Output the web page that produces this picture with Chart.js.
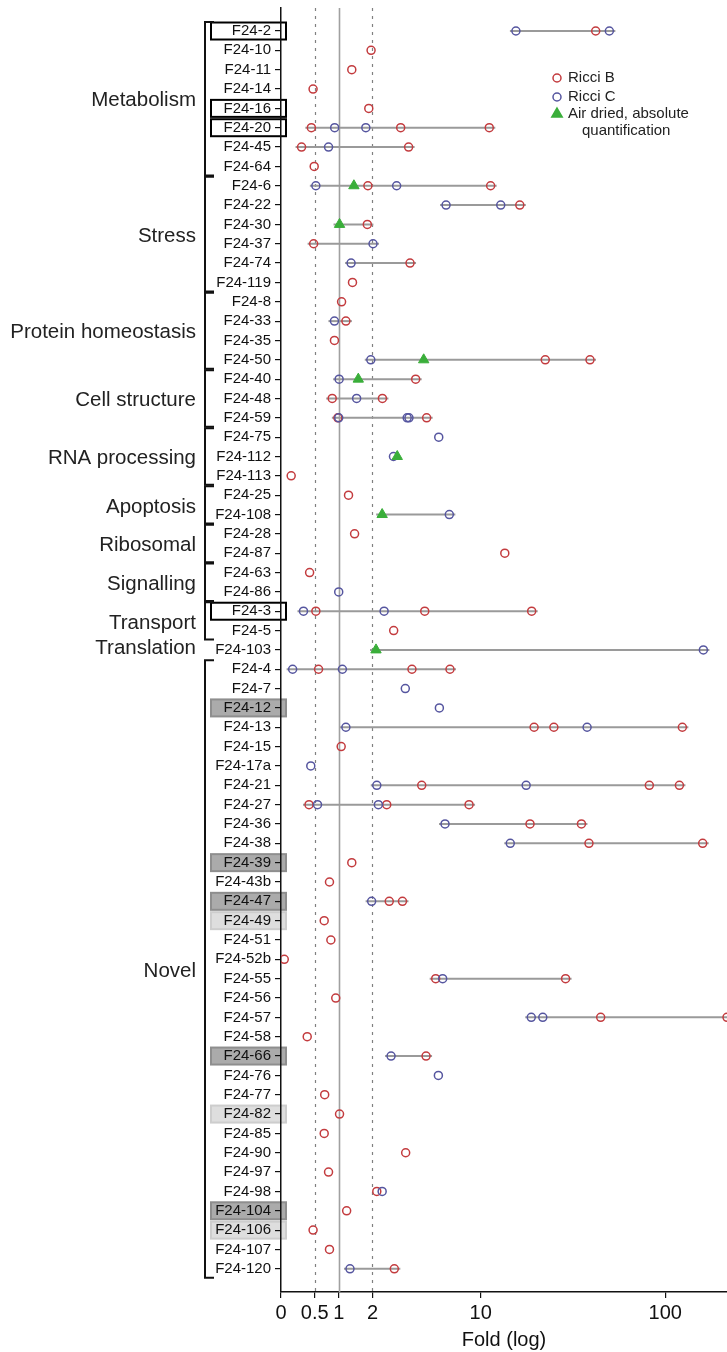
<!DOCTYPE html>
<html>
<head>
<meta charset="utf-8">
<script src="https://cdn.jsdelivr.net/npm/chart.js@4.4.0/dist/chart.umd.min.js"></script>
<style>
  html, body { margin: 0; padding: 0; background: #fff; }
  #wrap { position: relative; width: 727px; height: 1352px; }
</style>
</head>
<body>
<div id="wrap"><canvas id="foldChart"></canvas></div>
<script>
// Row labels, top to bottom
const rows = [
    'F24-2', 'F24-10', 'F24-11', 'F24-14', 'F24-16', 'F24-20', 'F24-45', 'F24-64',
    'F24-6', 'F24-22', 'F24-30', 'F24-37', 'F24-74', 'F24-119',
    'F24-8', 'F24-33', 'F24-35', 'F24-50',
    'F24-40', 'F24-48', 'F24-59',
    'F24-75', 'F24-112', 'F24-113',
    'F24-25', 'F24-108',
    'F24-28', 'F24-87',
    'F24-63', 'F24-86',
    'F24-3', 'F24-5',
    'F24-103',
    'F24-4', 'F24-7', 'F24-12', 'F24-13', 'F24-15', 'F24-17a', 'F24-21', 'F24-27',
    'F24-36', 'F24-38', 'F24-39', 'F24-43b', 'F24-47', 'F24-49', 'F24-51', 'F24-52b',
    'F24-55', 'F24-56', 'F24-57', 'F24-58', 'F24-66', 'F24-76', 'F24-77', 'F24-82',
    'F24-85', 'F24-90', 'F24-97', 'F24-98', 'F24-104', 'F24-106', 'F24-107', 'F24-120'
];

// Functional groups (consecutive rows)
const groupNames = ['Metabolism', 'Stress', 'Protein homeostasis', 'Cell structure', 'RNA processing',
    'Apoptosis', 'Ribosomal', 'Signalling', 'Transport', 'Translation', 'Novel'];
const groupSizes = [8, 6, 4, 3, 3, 2, 2, 2, 2, 1, 32];

// Fold values per row (one list per row, same order as rows)
const ricciB = [
    [42.8], [1.95], [1.34], [0.47], [1.87], [0.44, 3.21, 11.2], [0.28, 3.63], [0.49],
    [1.84, 11.4], [16.6], [1.82], [0.48], [3.71], [1.36],
    [1.07], [1.18], [0.9], [22.9, 39.9],
    [4.04], [0.85, 2.38], [0.98, 4.75],
    [], [], [0.13],
    [1.25], [],
    [1.42], [13.7],
    [0.41], [],
    [0.52, 4.62, 19.3], [2.87],
    [],
    [0.57, 3.82, 6.61], [], [], [19.9, 25.5, 123], [1.06], [], [4.42, 82.4, 118.7], [0.40, 2.56, 8.57],
    [18.9, 35.9], [39.4, 157.3], [1.34], [0.79], [2.67, 3.30], [0.68], [0.82], [0.04],
    [5.41, 29.5], [0.93], [45.5, 211], [0.37], [4.71], [], [0.69], [1.02],
    [0.68], [3.47], [0.77], [2.16], [1.20], [0.47], [0.79], [2.90]
];
const ricciC = [
    [15.8, 50.6], [], [], [], [], [0.905, 1.77], [0.77], [],
    [0.52, 3.01], [6.26, 13.0], [], [2.02], [1.32], [],
    [], [0.9], [], [1.94],
    [1.01], [1.48], [1.0, 3.55, 3.65],
    [5.65], [2.86], [],
    [], [6.55],
    [], [],
    [], [1.0],
    [0.31, 2.45], [],
    [158.6],
    [0.15, 1.09], [3.45], [5.70], [1.18, 38.5], [], [0.43], [2.16, 18.0], [0.55, 2.22],
    [6.17], [14.7], [], [], [1.97], [], [], [],
    [5.97], [], [19.2, 22.2], [], [2.75], [5.62], [], [],
    [], [], [], [2.37], [], [], [], [1.29]
];
const airDried = [
    [], [], [], [], [], [], [], [],
    [1.40], [], [1.02], [], [], [],
    [], [], [], [4.55],
    [1.53], [], [],
    [], [3.04], [],
    [], [2.37],
    [], [],
    [], [],
    [], [],
    [2.13],
    [], [], [], [], [], [], [], [],
    [], [], [], [], [], [], [], [],
    [], [], [], [], [], [], [], [],
    [], [], [], [], [], [], [], []
];

// Rows drawn without a range bar
const noRange = ['F24-98', 'F24-112'];

// Highlighted row labels
const outlinedLabels = ['F24-2', 'F24-16', 'F24-20', 'F24-3'];
const darkLabels = ['F24-12', 'F24-39', 'F24-47', 'F24-66', 'F24-104'];
const lightLabels = ['F24-49', 'F24-82', 'F24-106'];

const xTickValues = [0, 0.5, 1, 2, 10, 100];
const refLines = [0.5, 1, 2];
const xMaxFold = 211;

const colors = {
    red: '#c33b3e',
    blue: '#55559f',
    green: '#3aae3a',
    range: '#9a9a9a',
    ref: '#808080'
};
const FONT = "'Liberation Sans', Arial, Helvetica, sans-serif";

// Axis is log10(fold + 1)
const tf = v => Math.log10(v + 1);
const toPoints = series => series.flatMap((vals, i) => vals.map(v => ({ x: tf(v), y: i })));

// no extra label padding around the plot area
const noPad = scale => {
    scale.paddingTop = 0;
    scale.paddingBottom = 0;
    scale.paddingLeft = 0;
    scale.paddingRight = 0;
};

const decorPlugin = {
    id: 'foldDecor',
    beforeDraw(chart) {
        // label boxes behind the tick labels
        const ctx = chart.ctx;
        const y = chart.scales.y;
        ctx.save();
        rows.forEach((name, i) => {
            const py = y.getPixelForValue(i);
            let fill = null, stroke = null;
            if (outlinedLabels.includes(name)) { stroke = '#000'; }
            else if (darkLabels.includes(name)) { fill = '#ababab'; stroke = '#8e8e8e'; }
            else if (lightLabels.includes(name)) { fill = '#dedede'; stroke = '#cdcdcd'; }
            if (!stroke) return;
            if (fill) { ctx.fillStyle = fill; ctx.fillRect(211, py - 8.5, 75, 17); }
            ctx.strokeStyle = stroke;
            ctx.lineWidth = 2;
            ctx.strokeRect(211, py - 8.5, 75, 17);
        });
        ctx.restore();
    },
    beforeDatasetsDraw(chart) {
        const ctx = chart.ctx;
        const { x, y } = chart.scales;
        const area = chart.chartArea;
        ctx.save();
        ctx.beginPath();
        ctx.rect(area.left, area.top, area.right - area.left, area.bottom - area.top);
        ctx.clip();
        // reference lines at 0.5, 1, 2
        refLines.forEach(v => {
            const px = Math.round(x.getPixelForValue(tf(v))) + 0.5;
            ctx.beginPath();
            if (v === 1) {
                ctx.setLineDash([]);
                ctx.strokeStyle = '#a0a0a0';
                ctx.lineWidth = 1.6;
            } else {
                ctx.setLineDash([3, 5]);
                ctx.strokeStyle = colors.ref;
                ctx.lineWidth = 1.2;
            }
            ctx.moveTo(px, area.top);
            ctx.lineTo(px, area.bottom);
            ctx.stroke();
        });
        ctx.setLineDash([]);
        // range bars per row
        ctx.strokeStyle = colors.range;
        ctx.lineWidth = 2;
        rows.forEach((name, i) => {
            if (noRange.includes(name)) return;
            const vals = [...ricciB[i], ...ricciC[i], ...airDried[i]];
            if (vals.length < 2) return;
            const lo = x.getPixelForValue(tf(Math.min(...vals))) - 6;
            const hi = x.getPixelForValue(tf(Math.max(...vals))) + 6;
            const py = y.getPixelForValue(i);
            ctx.beginPath();
            ctx.moveTo(lo, py);
            ctx.lineTo(hi, py);
            ctx.stroke();
        });
        ctx.restore();
    },
    afterDraw(chart) {
        const ctx = chart.ctx;
        const y = chart.scales.y;
        ctx.save();
        // group brackets and names
        let start = 0;
        groupNames.forEach((name, g) => {
            const end = start + groupSizes[g] - 1;
            const top = y.getPixelForValue(start) - 9;
            const bottom = y.getPixelForValue(end) + 9;
            if (groupSizes[g] > 1) {
                ctx.strokeStyle = '#111';
                ctx.lineWidth = 2;
                ctx.beginPath();
                ctx.moveTo(214, top);
                ctx.lineTo(205, top);
                ctx.lineTo(205, bottom);
                ctx.lineTo(214, bottom);
                ctx.stroke();
            }
            ctx.fillStyle = '#222';
            ctx.font = '20.5px ' + FONT;
            ctx.textAlign = 'right';
            ctx.textBaseline = 'middle';
            const mid = (top + bottom) / 2 + (name === 'Translation' ? -2 : 2);
            ctx.fillText(name, 196, mid);
            start = end + 1;
        });

        // legend
        const items = [
            { color: colors.red, style: 'circle', text: 'Ricci B', y: 78 },
            { color: colors.blue, style: 'circle', text: 'Ricci C', y: 97 },
            { color: colors.green, style: 'triangle', text: 'Air dried, absolute', y: 114 }
        ];
        ctx.font = '15px ' + FONT;
        ctx.textAlign = 'left';
        ctx.textBaseline = 'middle';
        items.forEach(it => {
            ctx.strokeStyle = it.color;
            ctx.fillStyle = it.style === 'triangle' ? it.color : 'rgba(0,0,0,0)';
            ctx.lineWidth = 1.5;
            Chart.helpers.drawPoint(ctx, { pointStyle: it.style, radius: it.style === 'triangle' ? 6 : 4, borderWidth: 1.5, rotation: 0 }, 557, it.y);
            ctx.fillStyle = '#222';
            ctx.fillText(it.text, 568, it.y);
        });
        ctx.fillText('quantification', 582, 131);
        ctx.restore();
    }
};

const ctx = document.getElementById('foldChart').getContext('2d');
const foldChart = new Chart(ctx, {
    type: 'scatter',
    data: {
        datasets: [
            {
                label: 'Air dried, absolute quantification',
                data: toPoints(airDried),
                pointStyle: 'triangle',
                pointRadius: 6,
                backgroundColor: colors.green,
                borderColor: colors.green,
                pointBorderWidth: 1
            },
            {
                label: 'Ricci C',
                data: toPoints(ricciC),
                pointStyle: 'circle',
                pointRadius: 4,
                backgroundColor: 'rgba(0,0,0,0)',
                borderColor: colors.blue,
                pointBorderWidth: 1.5
            },
            {
                label: 'Ricci B',
                data: toPoints(ricciB),
                pointStyle: 'circle',
                pointRadius: 4,
                backgroundColor: 'rgba(0,0,0,0)',
                borderColor: colors.red,
                pointBorderWidth: 1.5
            }
        ]
    },
    options: {
        responsive: true,
        maintainAspectRatio: false,
        animation: false,
        devicePixelRatio: 1,
        layout: { autoPadding: false, padding: { top: 8, right: 0, bottom: 0, left: 0 } },
        plugins: {
            legend: { display: false },
            tooltip: { enabled: false }
        },
        scales: {
            x: {
                type: 'linear',
                min: 0,
                max: tf(xMaxFold),
                afterBuildTicks: scale => { scale.ticks = xTickValues.map(v => ({ value: tf(v) })); },
                afterFit: scale => { scale.height = 60; noPad(scale); },
                ticks: {
                    autoSkip: false,
                    maxRotation: 0,
                    padding: 3,
                    color: '#111',
                    font: { family: FONT, size: 20 },
                    callback: (val, idx) => String(xTickValues[idx])
                },
                grid: { drawOnChartArea: false, drawTicks: true, tickLength: 6, color: '#111', lineWidth: 1.2 },
                border: { display: true, color: '#111', width: 1.5 },
                title: {
                    display: true,
                    text: 'Fold (log)',
                    color: '#111',
                    font: { family: FONT, size: 20 },
                    padding: { top: 0, bottom: 0 }
                }
            },
            y: {
                type: 'linear',
                reverse: true,
                min: -1.19,
                max: 65.2,
                afterBuildTicks: scale => { scale.ticks = rows.map((_, i) => ({ value: i })); },
                afterFit: scale => { scale.width = 281; noPad(scale); },
                ticks: {
                    autoSkip: false,
                    padding: 4,
                    color: '#111',
                    font: { family: FONT, size: 15 },
                    callback: (val, idx) => rows[idx]
                },
                grid: { drawOnChartArea: false, drawTicks: true, tickLength: 6, color: '#111', lineWidth: 1.2 },
                border: { display: true, color: '#111', width: 1.5 }
            }
        }
    },
    plugins: [decorPlugin]
});
</script>
</body>
</html>
